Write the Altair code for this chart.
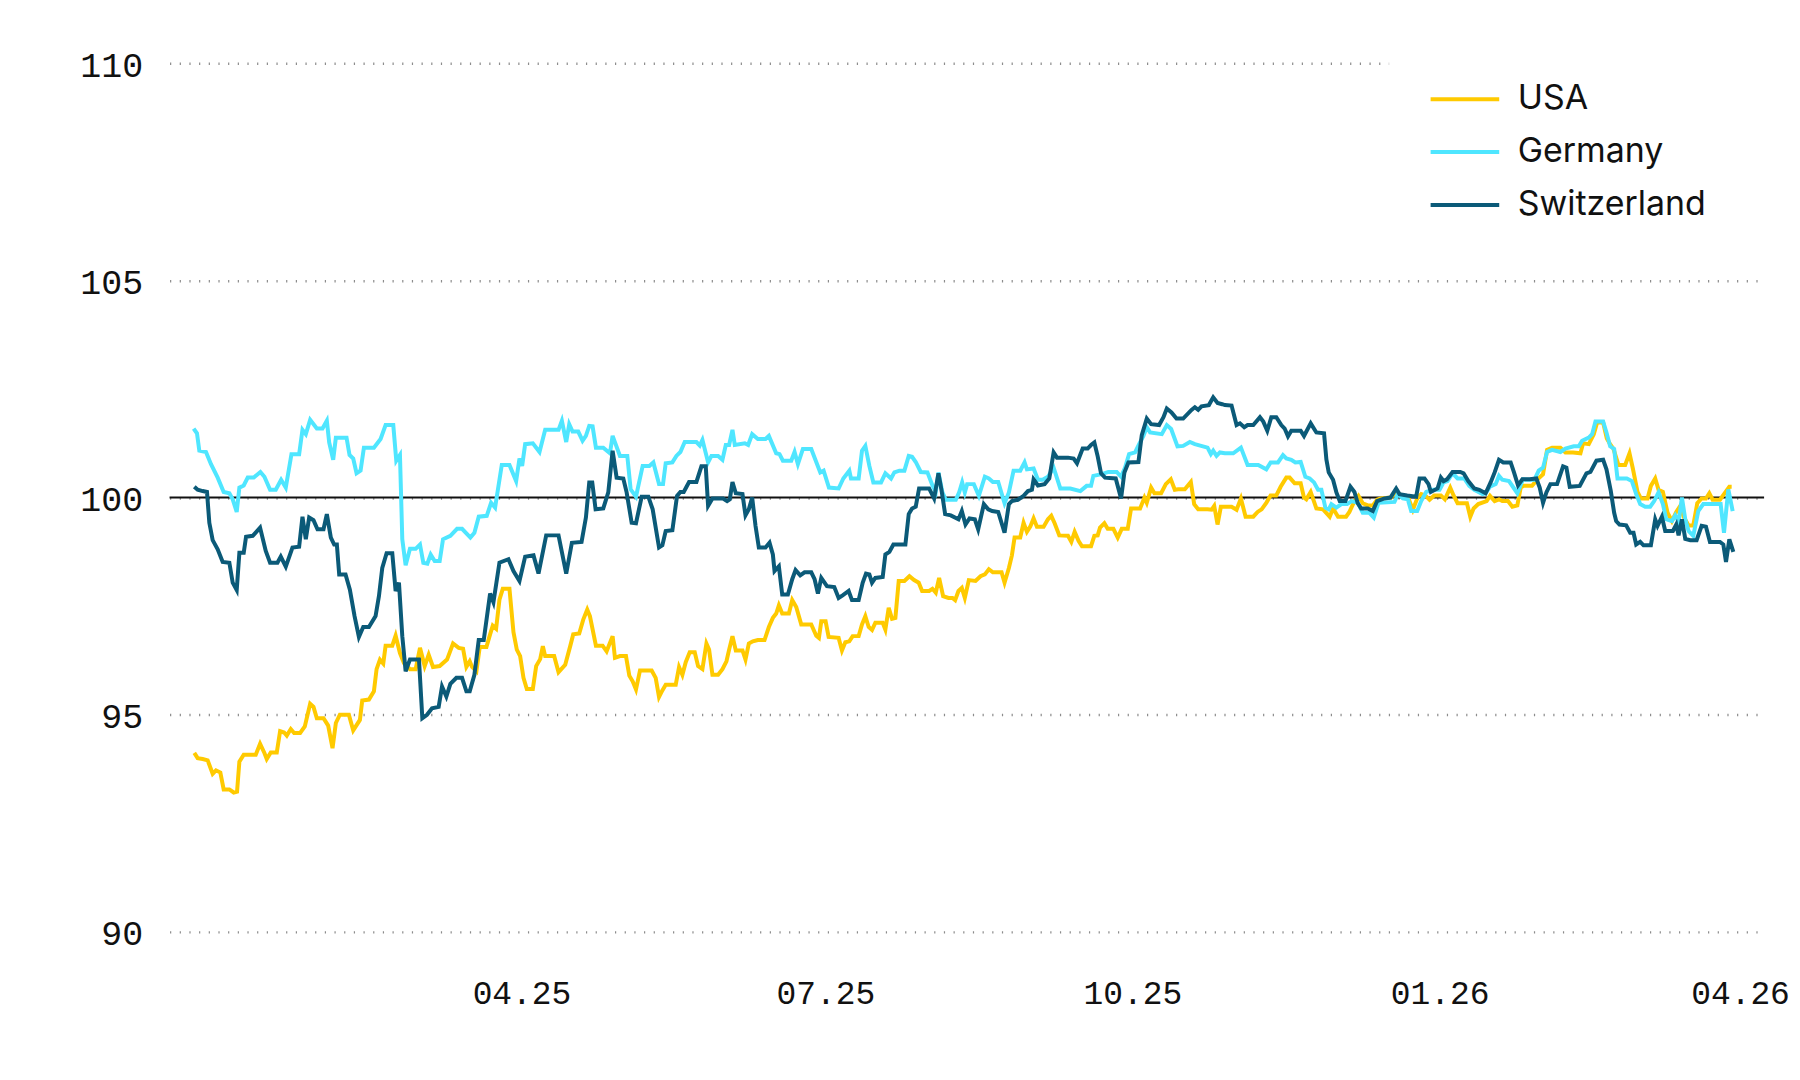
import altair as alt
import pandas as pd

# ---------------- data ----------------
BASE_DATE = "2024-12-23"          # day 0
series_names = ["USA", "Germany", "Switzerland"]
series_colors = ["#FFCA00", "#4FE6FF", "#0B5A78"]

usa_day = [1.0, 2.0, 3.5, 5.0, 6.5, 7.5, 8.8, 9.8, 11.5, 12.8, 13.8, 14.5, 15.8, 19.4, 20.7, 22.0, 22.7, 23.9, 25.7,
           26.7, 27.9, 28.7, 29.9, 30.9, 32.7, 34.1, 35.7, 36.7, 37.7, 39.7, 41.1, 42.4, 43.4, 44.6, 47.3, 48.6, 50.6,
           51.3, 53.3, 54.8, 55.6, 56.6, 57.6, 58.3, 60.3, 61.3, 62.6, 63.8, 65.6, 67.3, 68.6, 70.0, 71.2, 72.5, 74.5,
           76.7, 78.5, 80.2, 81.5, 82.5, 83.5, 84.2, 85.5, 86.5, 88.5, 89.6, 90.4, 91.4, 92.4, 93.4, 95.4, 96.6, 97.6,
           98.6, 99.6, 100.6, 102.4, 103.4, 104.6, 105.4, 106.1, 108.8, 110.1, 112.1, 113.6, 114.5, 116.3, 117.5, 118.7,
           119.5, 121.3, 123.3, 124.5, 126.3, 127.0, 128.5, 130.3, 131.3, 132.3, 133.3, 134.5, 138.0, 139.2, 140.2,
           141.2, 142.2, 145.2, 146.2, 147.2, 148.2, 149.4, 150.9, 151.9, 153.2,
           154.4, 155.2, 156.2, 157.9, 159.2, 160.4, 161.2, 162.2, 163.2, 165.2, 166.1, 167.1, 168.3, 169.8, 171.8,
           173.1, 174.3, 175.3, 176.1, 177.1, 179.1, 180.1, 181.3, 182.8, 185.8, 187.3, 188.1, 188.8, 190.1, 191.0,
           194.0, 195.0, 196.0, 197.2, 198.2, 200.0, 201.0, 202.0, 203.0, 204.0, 205.0, 207.2, 208.0, 209.0, 210.0,
           211.0, 212.0, 213.7, 215.2, 216.6, 218.0, 219.0, 221.1, 222.1, 223.1, 224.1, 225.3, 226.9, 228.1, 228.9,
           229.9, 230.9,
           231.8, 233.0, 235.0, 236.5, 237.8, 239.0, 240.2, 242.8, 243.7, 245.0, 245.9, 246.7, 248.4, 249.4, 250.4,
           251.4, 252.4, 253.4, 255.4, 256.7, 257.7, 258.7, 260.1, 262.7, 263.7, 264.7, 265.9, 266.9, 269.6, 270.6,
           271.6, 272.3, 273.6, 274.6, 276.3, 277.6, 278.8, 280.6, 281.6, 284.3, 285.6, 286.3, 287.6, 288.6, 290.6,
           292.0, 293.5, 294.7, 295.7, 297.7, 299.5, 300.5, 301.7, 304.5, 305.7, 306.5, 307.5, 308.5,
           311.7, 313.2, 314.5, 315.9, 318.2, 319.5, 320.7, 322.1, 323.4, 325.1, 326.4, 328.1, 329.1, 330.6, 332.4,
           333.4, 334.1, 335.4, 337.1, 339.1, 340.4, 341.1, 342.1, 343.6, 346.0, 347.0, 348.5, 349.7, 351.0, 352.5,
           354.0, 355.3, 356.3, 359.5, 361.0, 362.5, 364.5, 366.0, 367.3, 368.5, 369.7, 371.0, 372.4, 374.4, 375.6,
           377.2, 378.2, 379.4, 382.2, 383.2, 384.2, 385.6,
           388.1, 389.1, 390.5, 391.8, 392.8, 394.5, 395.8, 397.3, 398.3, 399.2, 401.7, 403.2, 405.0, 406.2, 407.7,
           410.2, 411.7, 414.0, 416.2, 417.0, 418.7, 420.2, 421.2, 423.0, 424.1, 425.1, 426.1, 427.6, 429.6, 430.9,
           431.9, 433.3, 434.3, 436.3, 437.3, 438.6, 439.6, 440.9, 442.3, 443.6, 444.9, 446.1, 447.1, 448.6, 450.0,
           451.2, 452.5, 453.8, 454.8, 455.8, 458.0, 459.2, 460.8, 461.5]
usa_val = [94.12, 94.0, 93.98, 93.95, 93.64, 93.72, 93.67, 93.28, 93.28, 93.21, 93.23, 93.92, 94.08, 94.08, 94.33,
           94.12, 93.98, 94.13, 94.13, 94.62, 94.59, 94.52, 94.67, 94.58, 94.58, 94.73, 95.25, 95.18, 94.92, 94.92,
           94.75, 94.23, 94.81, 95.0, 95.0, 94.64, 94.88, 95.33, 95.35, 95.54, 96.05, 96.27, 96.18, 96.59, 96.59,
           96.82, 96.42, 96.19, 96.05, 96.05, 96.54, 96.12, 96.38, 96.10, 96.12,
           96.27, 96.64, 96.54, 96.52, 96.10, 96.23, 96.10, 96.0, 96.56, 96.56, 96.85, 97.05, 96.98, 97.65, 97.90,
           97.90, 96.90, 96.50, 96.35, 95.85, 95.59, 95.59, 96.12, 96.28, 96.58, 96.35, 96.35, 95.98, 96.15, 96.58,
           96.85, 96.87, 97.19, 97.42, 97.27, 96.59, 96.59, 96.46, 96.81, 96.31, 96.35, 96.35, 95.90, 95.77, 95.58,
           96.02, 96.02, 95.85, 95.41, 95.56, 95.69, 95.69, 96.10, 95.92, 96.21, 96.44, 96.44, 96.12, 96.05,
           96.64, 96.50, 95.92, 95.92, 96.05, 96.23, 96.50, 96.81, 96.48, 96.48, 96.27, 96.64, 96.69, 96.72, 96.72,
           97.02, 97.23, 97.33, 97.52, 97.33, 97.33, 97.64, 97.48, 97.08, 97.08, 96.82, 96.77, 97.15, 97.15, 96.79,
           96.77, 96.48, 96.67, 96.69, 96.81, 96.81, 97.08, 97.27, 97.02, 96.95, 97.12, 97.12, 96.96, 97.46, 97.21,
           97.23, 98.08, 98.08, 98.19, 98.10, 98.04, 97.85, 97.85, 97.90, 97.81, 98.15, 97.73, 97.69, 97.69, 97.64,
           97.85, 97.92,
           97.69, 98.10, 98.08, 98.19, 98.23, 98.35, 98.28, 98.28, 98.04, 98.38, 98.67, 99.08, 99.08, 99.42, 99.21,
           99.33, 99.52, 99.33, 99.33, 99.50, 99.58, 99.41, 99.13, 99.12, 98.98, 99.21, 99.0, 98.88, 98.88, 99.12,
           99.13, 99.31, 99.41, 99.28, 99.28, 99.08, 99.28, 99.28, 99.75, 99.75, 100.0, 99.88, 100.23, 100.10, 100.10,
           100.31, 100.42, 100.18, 100.19, 100.19, 100.36, 99.85, 99.73, 99.73, 99.72, 99.81, 99.38, 99.79,
           99.79, 99.72, 99.98, 99.56, 99.56, 99.67, 99.73, 99.88, 100.05, 100.05, 100.25, 100.46, 100.46, 100.33,
           100.33, 100.0, 99.96, 100.13, 99.75, 99.73, 99.62, 99.56, 99.75, 99.56, 99.56, 99.67, 99.92, 100.04, 99.87,
           99.82, 99.82, 99.95, 99.98, 100.0, 100.15, 100.05, 100.02, 99.72, 99.98, 100.08, 100.05, 99.95, 100.05,
           100.05, 99.96, 100.23, 100.05, 99.87, 99.87, 99.56, 99.75, 99.85,
           99.92, 100.04, 99.92, 99.96, 99.92, 99.92, 99.79, 99.82, 100.23, 100.27, 100.27, 100.41, 100.54, 101.10,
           101.15, 101.15, 101.04, 101.04, 101.02, 101.25, 101.23, 101.46, 101.73, 101.73, 101.36, 101.23, 101.12,
           100.75, 100.75, 101.02, 100.67, 100.13, 99.98, 99.98, 100.27, 100.44, 100.18, 100.13, 99.65, 99.46, 99.67,
           99.81, 99.56, 99.36, 99.36, 99.87, 99.98, 99.98, 100.10, 99.95, 99.95, 100.08, 100.25, 100.25]

ger_day = [0.8, 1.8, 2.5, 4.5, 6.0, 8.0, 9.8, 11.5, 12.5, 13.7, 14.5, 15.8, 17.0, 18.8, 20.8, 22.0, 23.7, 25.4, 27.0,
           28.4, 30.1, 32.4, 33.4, 34.4, 35.7, 37.7, 39.4, 40.7, 41.4, 42.6, 43.4, 46.6, 47.5, 48.6, 49.6, 50.8, 51.8,
           54.8, 56.8, 58.3, 60.6, 61.5, 62.6, 63.3, 64.3, 65.6, 67.3, 68.6, 69.6, 70.8, 71.8, 73.0, 74.5, 75.5,
           77.7, 79.7, 81.2, 83.7, 84.9, 86.2, 88.6, 89.9, 91.1, 93.1, 95.4, 97.4, 98.4, 99.2, 100.1, 102.4, 104.4,
           106.1, 110.1, 111.1, 112.4, 113.3, 114.3, 116.0, 117.3, 118.3, 119.3, 120.3, 121.3, 123.5, 125.5, 126.3,
           128.5, 130.7, 131.7, 133.3, 135.3, 137.3, 138.5, 140.2, 141.4, 142.2, 144.2, 145.4, 146.6, 147.9, 151.4,
           152.4, 153.2,
           154.9, 155.9, 157.9, 159.2, 160.2, 161.2, 162.2, 162.9, 165.9, 166.9, 168.1, 169.8, 172.1, 173.1, 175.3,
           176.3, 177.3, 179.8, 180.8, 181.8, 183.3, 185.8, 188.5, 189.5, 191.1, 194.0, 195.4, 197.2, 197.7, 200.0,
           201.0, 202.0, 203.2, 204.4, 206.7, 208.0, 209.7, 210.7, 212.2, 213.7, 215.0, 216.0, 217.1, 218.6, 220.6,
           222.1, 223.1, 223.9, 225.1, 226.1, 229.1, 230.1,
           231.0, 231.8, 232.5, 234.5, 236.0, 237.8, 239.0, 240.2, 241.8, 243.7, 245.0, 246.4, 248.4, 249.7, 250.4,
           252.4, 253.7, 255.1, 256.7, 258.4, 260.4, 263.4, 266.4, 268.3, 269.6, 270.3, 272.8, 274.8, 277.3, 278.6,
           279.8, 281.0, 282.8, 284.0, 285.3, 286.3, 287.3, 290.8, 292.3, 293.6, 295.5, 297.2, 299.2, 300.7, 304.5,
           305.5, 306.2, 307.2, 308.2, 309.7,
           312.2, 314.5, 316.5, 319.7, 322.1, 323.4, 325.6, 327.1, 328.1, 329.6, 330.8, 332.4, 333.8, 335.1, 336.4,
           337.6, 338.6, 339.8, 340.8, 341.6, 343.1, 344.6, 346.3, 347.7, 349.5, 351.0, 353.0, 354.3, 355.7, 360.5,
           361.5, 363.0, 364.5, 365.5, 367.3, 368.5, 370.0, 372.0, 374.0, 375.2, 376.4, 377.9, 379.4, 381.4, 382.9,
           384.4, 386.9,
           387.8, 389.1, 390.8, 391.8, 392.8, 394.8, 397.3, 399.0, 401.2, 402.4, 403.7, 405.0, 406.2, 407.7, 410.2,
           411.7, 414.2, 415.7, 416.7, 418.7, 419.7, 420.7, 423.0, 424.0, 425.1, 426.3, 427.3, 430.1, 431.6, 432.9,
           434.1, 435.6, 437.1, 438.3, 439.6, 440.9, 441.9, 443.6, 444.6, 445.6, 446.6, 447.6, 448.6, 450.0, 451.5,
           453.0, 458.2, 459.2, 460.5, 461.8]
ger_val = [101.59, 101.48, 101.08, 101.05, 100.77, 100.46, 100.13, 100.10, 99.96, 99.67, 100.23, 100.28, 100.46,
           100.46, 100.59, 100.48, 100.18, 100.18, 100.41, 100.23, 101.0, 101.0, 101.56, 101.46, 101.79, 101.59,
           101.59, 101.77, 101.27, 100.87, 101.38, 101.38, 100.98, 100.90, 100.56, 100.62, 101.15, 101.15, 101.35,
           101.67, 101.67, 100.85, 100.98, 99.04, 98.44, 98.82, 98.82, 98.92, 98.50, 98.48, 98.69, 98.54, 98.54, 99.04,
           99.12, 99.28, 99.28, 99.08, 99.19, 99.56, 99.58, 99.88, 99.77, 100.75, 100.75, 100.38, 100.90, 100.73,
           101.23, 101.25, 101.05, 101.56, 101.56, 101.77, 101.28, 101.69, 101.52, 101.52, 101.31, 101.42, 101.65,
           101.64, 101.15, 101.15, 101.02, 101.42, 100.96, 100.96, 100.19, 100.02, 100.73, 100.73, 100.81, 100.31,
           100.31, 100.79, 100.81, 100.96, 101.05, 101.28, 101.28, 101.20, 101.33,
           100.81, 100.96, 100.96, 100.87, 101.21, 101.21, 101.56, 101.21, 101.25, 101.21, 101.46, 101.35, 101.35,
           101.42, 101.02, 101.0, 100.85, 100.85, 101.05, 100.77, 101.12, 101.12, 100.58, 100.62, 100.23, 100.21,
           100.44, 100.62, 100.44, 100.44, 101.08, 101.19, 100.73, 100.35, 100.35, 100.56, 100.44, 100.58, 100.62,
           100.62, 100.96, 100.94, 100.82, 100.59, 100.58, 100.28, 100.13, 100.58, 100.12, 99.95, 99.95, 100.12,
           100.35, 100.12, 100.31, 100.31, 100.04, 100.48, 100.44, 100.36, 100.36, 99.87, 100.12, 100.62, 100.62,
           100.81, 100.65, 100.67, 100.41, 100.41, 100.48, 100.69, 100.21, 100.21, 100.15, 100.27, 100.27, 100.50,
           100.54, 100.59, 100.59, 100.48, 100.69, 101.0, 101.04, 101.23, 101.42, 101.62, 101.50, 101.46, 101.67,
           101.58, 101.18, 101.19, 101.28, 101.23, 101.15, 101.0, 101.08, 100.96, 101.04, 101.02,
           101.02, 101.15, 100.75, 100.75, 100.65, 100.81, 100.81, 100.98, 100.90, 100.87, 100.81, 100.82, 100.48,
           100.44, 100.35, 100.18, 100.18, 99.77, 99.73, 99.85, 99.77, 99.85, 99.85, 99.92, 99.88, 99.65, 99.65,
           99.54, 99.88, 99.90, 100.08, 99.98, 99.96, 99.69, 99.69, 99.92, 100.13, 100.18, 100.18, 100.35, 100.38,
           100.56, 100.44, 100.44, 100.27, 100.18, 100.08,
           100.10, 100.25, 100.31, 100.50, 100.41, 100.38, 100.10, 100.42, 100.41, 100.41, 100.62, 100.69, 101.05,
           101.10, 101.05, 101.13, 101.18, 101.18, 101.31, 101.38, 101.46, 101.75, 101.75, 101.50, 101.18, 101.12,
           100.44, 100.44, 100.38, 100.08, 99.85, 99.79, 99.79, 99.92, 100.12, 99.85, 99.50, 99.46, 99.59, 99.44,
           100.0, 99.50, 99.23, 99.12, 99.69, 99.85, 99.85, 99.19, 100.19, 99.69]

che_day = [1.0, 2.0, 3.5, 4.8, 5.5, 6.5, 8.0, 9.5, 11.5, 12.5, 13.7, 14.5, 15.8, 16.5, 18.5, 20.7, 22.4, 23.7, 25.9,
           26.9, 28.4, 30.4, 32.4, 33.4, 34.4, 35.4, 36.7, 37.9, 39.7, 40.7, 41.9, 42.9, 43.7, 44.4, 46.3, 47.6, 49.0,
           50.3, 51.6, 53.3, 55.3, 56.3, 57.3, 58.6, 60.3, 61.3, 62.3, 63.3, 64.3, 65.6, 68.3, 69.3, 70.7, 72.2, 74.2,
           75.2,
           76.5, 77.7, 79.5, 81.2, 82.5, 83.5, 84.9, 86.2, 87.7, 89.6, 90.6, 92.4, 95.1, 96.6, 98.4, 100.1, 102.6,
           104.1, 106.4, 110.1, 112.4, 114.1, 117.0, 118.3, 119.3, 120.2, 121.2, 123.5, 125.0, 126.3, 127.5, 129.5,
           130.5, 132.0, 133.3, 135.0, 137.0, 138.3, 140.2, 141.2, 142.2, 144.2, 145.6, 146.6, 147.6, 149.2, 151.4,
           152.9, 154.2,
           154.9, 156.2, 159.4, 160.6, 161.4, 162.2, 163.2, 165.2, 166.1, 167.1, 168.1, 169.1, 170.1, 172.1, 173.3,
           174.3, 174.8, 176.1, 177.1, 178.8, 180.1, 181.1, 182.5, 183.8, 185.8, 186.8, 187.8, 188.8, 190.5, 192.7,
           194.0, 195.2, 197.0, 198.0, 200.0, 201.2, 202.2, 203.2, 204.0, 205.0, 207.2, 208.0, 209.2, 210.4, 214.0,
           215.0, 216.0, 217.1, 218.1, 221.1, 222.6, 223.9, 224.9, 225.9, 227.6, 229.9, 230.9,
           232.0, 233.2, 234.8, 235.8, 237.5, 238.8, 240.0, 241.8, 243.7, 245.0, 245.9, 247.7, 249.4, 250.7, 251.9,
           252.4, 253.7, 255.7, 257.1, 258.4, 259.4, 262.7, 264.4, 265.4, 267.1, 268.6, 269.6, 270.6, 271.6, 272.6,
           273.8, 277.0, 278.6, 279.6, 280.8, 283.8, 284.8, 286.3, 287.6, 290.0, 291.3, 292.3, 293.7, 295.2, 297.2,
           299.7, 300.7, 301.7, 302.7, 304.9, 306.2, 307.5, 308.9,
           309.7, 311.7, 313.2, 314.2, 315.5, 316.5, 318.2, 320.2, 321.2, 322.4, 323.6, 325.1, 326.6, 327.6, 328.6,
           329.6, 332.4, 333.4, 335.4, 337.1, 339.4, 340.1, 340.8, 342.1, 343.1, 344.1, 345.8, 347.3, 348.5, 349.5,
           350.5, 352.5, 354.0, 355.3, 357.5, 359.3, 361.0, 362.0, 364.3, 367.0, 368.0, 369.5, 370.7, 371.4, 373.4,
           374.4, 375.2, 376.2, 377.9, 380.2, 381.2, 382.6, 384.4, 385.9,
           387.8, 389.3, 390.5, 391.8, 393.1, 395.3, 396.3, 397.5, 398.8, 401.0, 403.0, 404.0, 405.0, 406.0, 407.2,
           409.2, 411.0, 412.0, 413.0, 416.0, 418.0, 419.2, 421.0, 423.0, 424.0, 425.3, 426.3, 426.9, 427.9, 429.9,
           431.1, 432.1, 432.9, 434.1, 435.1, 437.3, 438.6, 439.3, 440.6, 441.6, 443.9, 444.9, 445.6, 446.6, 447.6,
           449.1, 451.0, 452.5, 453.8, 455.0, 458.0, 459.0, 459.8, 460.8, 462.0]
che_val = [100.25, 100.18, 100.15, 100.13, 99.42, 99.02, 98.81, 98.52, 98.50, 98.04, 97.87, 98.73, 98.73, 99.10,
           99.12, 99.31, 98.77, 98.50, 98.50, 98.64, 98.41, 98.85, 98.87, 99.56, 99.04, 99.54, 99.48, 99.27, 99.27,
           99.62, 99.08, 98.92, 98.92, 98.23, 98.23, 97.88, 97.27, 96.79, 97.02, 97.02, 97.27, 97.73, 98.38, 98.72,
           98.72, 97.85, 98.04, 96.81, 96.0, 96.27, 96.27, 94.92, 95.0, 95.15, 95.18, 95.65,
           95.42, 95.71, 95.85, 95.85, 95.54, 95.54, 95.92, 96.72, 96.72, 97.79, 97.59, 98.50, 98.58, 98.31, 98.08,
           98.64, 98.67, 98.25, 99.13, 99.13, 98.25, 98.96, 98.98, 99.54, 100.35, 100.35, 99.73, 99.75, 100.12,
           101.08, 100.46, 100.44, 100.12, 99.42, 99.41, 100.02, 100.02, 99.73, 98.85, 98.90, 99.23, 99.25, 100.04,
           100.13, 100.13, 100.36, 100.36, 100.72, 100.72,
           99.81, 99.98, 99.98, 99.92, 99.96, 100.36, 100.10, 100.08, 99.59, 99.73, 100.0, 99.35, 98.85, 98.85, 98.96,
           98.69, 98.31, 98.42, 97.77, 97.77, 98.12, 98.33, 98.21, 98.28, 98.28, 98.12, 97.79, 98.15, 97.96, 97.94,
           97.69, 97.75, 97.85, 97.64, 97.64, 98.04, 98.25, 98.23, 98.04, 98.15, 98.17, 98.69, 98.75, 98.92, 98.92,
           99.62, 99.75, 99.79, 100.21, 100.21, 99.98, 100.56, 100.13, 99.62, 99.59, 99.50, 99.69,
           99.38, 99.52, 99.50, 99.27, 99.85, 99.73, 99.69, 99.67, 99.19, 99.85, 99.92, 99.95, 100.04, 100.15, 100.18,
           100.42, 100.28, 100.31, 100.44, 101.04, 100.92, 100.92, 100.90, 100.79, 101.13, 101.13, 101.21, 101.27,
           100.95, 100.56, 100.46, 100.44, 99.98, 100.58, 100.81, 100.82, 101.44, 101.82, 101.69, 101.67, 101.85,
           102.05, 101.96, 101.82, 101.82, 102.02, 102.08, 102.02, 102.10, 102.13, 102.31, 102.18, 102.15,
           102.13, 102.12, 101.67, 101.71, 101.62, 101.67, 101.67, 101.85, 101.75, 101.54, 101.85, 101.85, 101.67,
           101.59, 101.41, 101.54, 101.54, 101.42, 101.71, 101.50, 101.48, 100.88, 100.58, 100.41, 100.12, 99.92,
           99.92, 100.25, 100.13, 99.87, 99.75, 99.75, 99.69, 99.92, 99.98, 100.0, 100.21, 100.08, 100.05, 100.02,
           100.44, 100.44, 100.31, 100.13, 100.21, 100.46, 100.38, 100.42, 100.59, 100.59, 100.56, 100.38, 100.21,
           100.18,
           100.10, 100.35, 100.58, 100.87, 100.81, 100.81, 100.58, 100.28, 100.42, 100.42, 100.44, 100.23, 99.88,
           100.12, 100.31, 100.31, 100.72, 100.69, 100.25, 100.27, 100.56, 100.59, 100.85, 100.87, 100.65, 100.15,
           99.65, 99.46, 99.38, 99.36, 99.19, 99.19, 98.92, 98.98, 98.90, 98.90, 99.50, 99.35, 99.56, 99.23, 99.23,
           99.38, 99.13, 99.50, 99.05, 99.02, 99.02, 99.35, 99.33, 98.98, 98.98, 98.92, 98.52, 99.04, 98.75]

baseline = [100]
y_ticks = [90, 95, 100, 105, 110]
x_ticks = [(2025, 4), (2025, 7), (2025, 10), (2026, 1), (2026, 4)]

# ---------------- build table ----------------
def frame(name, days, vals):
    return pd.DataFrame({
        "date": pd.Timestamp(BASE_DATE) + pd.to_timedelta(days, unit="D"),
        "value": vals,
        "country": name,
    })

df = pd.concat([frame("USA", usa_day, usa_val),
                frame("Germany", ger_day, ger_val),
                frame("Switzerland", che_day, che_val)], ignore_index=True)

AXIS_FONT = "Liberation Mono"
LEGEND_FONT = "Inter"

x_scale = alt.Scale(domain=[alt.DateTime(year=2024, month=12, date=16, hours=14),
                            alt.DateTime(year=2026, month=4, date=8, hours=5)])
y_scale = alt.Scale(domain=[90, 110], nice=False, zero=False)

lines = alt.Chart(df).mark_line(strokeWidth=4).encode(
    x=alt.X("date:T", scale=x_scale, title=None,
            axis=alt.Axis(values=[alt.DateTime(year=y, month=m, date=1) for y, m in x_ticks],
                          format="%m.%y", grid=False, ticks=False, domain=False,
                          labelPadding=46, labelFont=AXIS_FONT, labelFontSize=33,
                          labelColor="#111111")),
    y=alt.Y("value:Q", scale=y_scale, title=None,
            axis=alt.Axis(values=y_ticks, grid=True, gridDash=[1.2, 8.5], gridColor="#8c8c8c",
                          gridWidth=2.5, ticks=False, domain=False, labelPadding=27,
                          labelOffset=2,
                          minExtent=150, maxExtent=150, labelFont=AXIS_FONT, labelFontSize=35,
                          labelColor="#111111")),
    color=alt.Color("country:N",
                    scale=alt.Scale(domain=series_names, range=series_colors),
                    legend=alt.Legend(orient="none", legendX=1223, legendY=-40, title=None,
                                      symbolType="M-1.72,0H1.72", symbolSize=1600,
                                      symbolStrokeWidth=4, labelFont=LEGEND_FONT,
                                      labelFontSize=34, labelOffset=31, labelLimit=400,
                                      rowPadding=14, padding=54, fillColor="white",
                                      labelColor="#111111")),
)

rule = alt.Chart(pd.DataFrame({"v": baseline})).mark_rule(color="#111111", strokeWidth=2).encode(
    y=alt.Y("v:Q", scale=y_scale)
)

chart = alt.layer(rule, lines).properties(
    width=1599, height=871,
    autosize=alt.AutoSizeParams(type="none"),
    padding={"left": 162, "top": 54, "right": 28, "bottom": 120},
).configure(background="white").configure_view(stroke="transparent", strokeWidth=0)

chart.save("out.html", embed_options={"renderer": "svg", "actions": False})
